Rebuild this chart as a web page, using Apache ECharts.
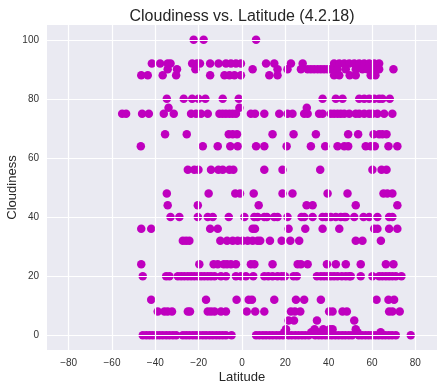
<!DOCTYPE html>
<html>
<head>
<meta charset="utf-8">
<script src="https://cdn.jsdelivr.net/npm/echarts@6/dist/echarts.min.js"></script>
<style>html,body{margin:0;padding:0;background:#fff}#c{width:444px;height:390px}</style>
</head>
<body>
<div id="c"></div>
<script>
// Latitude values of cities, grouped by their cloudiness (%) reading
var lat_c100 = [-22.3, -17.7, 6.5];
var lat_c92 = [-41.6, -37.8, -34.3, -33.0, -23.0, -20.7, -19.4, -14.7, -10.8, -7.4, -5.1, -2.8, -0.5, 11.1, 14.9, 22.6, 28.0, 42.5, 44.9, 47.2, 49.5, 51.8, 54.1, 56.4, 58.7, 61.0, 63.3];
var lat_c90 = [-34.3, -30.0, -21.5, 4.9, 16.4, 21.0, 27.2, 30.3, 31.8, 33.3, 34.9, 36.4, 37.9, 39.5, 41.0, 42.5, 44.1, 47.9, 52.5, 55.6, 57.9, 61.0, 63.3, 69.9];
var lat_c88 = [-46.5, -43.5, -36.6, -30.4, -14.7, -8.1, -5.8, -3.5, -0.5, 12.6, 16.4, 42.5, 44.9, 49.7, 52.5, 59.4, 61.6];
var lat_c80 = [-34.7, -26.9, -23.0, -20.1, -16.9, -8.9, -1.5, 37.2, 43.3, 46.4, 54.1, 56.4, 58.7, 61.0, 63.3, 64.8, 68.2];
var lat_c77 = [-33.9, -1.2, 29.9];
var lat_c75 = [-55.3, -53.5, -46.1, -43.0, -36.1, -31.5, -23.5, -21.2, -18.9, -15.8, -10.4, -8.9, -7.4, -5.8, -4.3, -2.8, 4.1, 6.0, 10.3, 17.2, 21.0, 23.3, 28.7, 30.3, 35.6, 37.2, 41.0, 42.5, 44.1, 45.6, 47.2, 49.5, 52.5, 54.1, 56.4, 58.7, 60.2, 62.5, 65.6, 69.4];
var lat_c68 = [-35.5, -25.5, -6.1, -4.3, -2.3, 14.1, 23.8, 34.1, 49.0, 53.6, 60.7, 63.3, 64.8, 66.7];
var lat_c64 = [-46.7, -18.1, -11.2, -5.4, -2.0, 6.5, 10.3, 20.6, 31.8, 38.4, 44.1, 47.2, 49.0, 57.1, 59.4, 61.3, 67.6, 71.7];
var lat_c56 = [-25.0, -22.0, -20.1, -14.3, -10.9, -8.9, -5.8, -4.0, 10.3, 18.7, 36.1, 60.2, 64.4, 66.7];
var lat_c48 = [-34.7, -15.4, -3.1, -0.9, 5.4, 18.7, 23.3, 39.5, 48.7, 65.3, 67.1, 69.4];
var lat_c44 = [-34.3, -20.4, 7.7, 29.8, 32.6, 52.5, 71.7];
var lat_c40 = [-33.0, -28.9, -20.4, -15.8, -13.5, -6.1, 1.1, 5.7, 7.2, 10.3, 11.5, 14.9, 16.4, 21.0, 27.5, 28.7, 32.6, 37.2, 38.7, 41.0, 43.3, 45.6, 47.2, 47.9, 51.8, 56.1, 58.7, 62.5, 67.9, 69.4];
var lat_c36 = [-46.5, -41.9, -14.7, -11.2, 4.9, 6.0, 21.5, 29.2, 37.2, 44.9, 61.0, 62.5, 67.9, 71.7];
var lat_c32 = [-27.3, -25.8, -24.3, -10.0, -6.9, -4.3, -2.0, 0.3, 2.6, 4.9, 7.2, 8.4, 12.9, 18.3, 22.3, 26.4, 52.5, 55.6, 64.1];
var lat_c24 = [-46.5, -19.7, -13.1, -11.2, -8.4, -6.9, -5.1, -2.8, 4.1, 5.7, 14.1, 25.7, 27.2, 30.3, 39.2, 43.3, 47.9, 54.8, 66.4, 69.9];
var lat_c20 = [-45.8, -35.0, -33.5, -29.6, -28.1, -26.6, -25.0, -23.5, -22.0, -20.4, -18.9, -17.4, -15.8, -14.3, -12.7, -9.7, -7.4, -2.8, -0.5, 1.8, 5.2, 10.3, 12.1, 14.1, 16.4, 18.3, 19.8, 23.8, 25.3, 34.6, 36.4, 37.9, 39.5, 41.0, 42.5, 44.1, 46.1, 47.9, 49.5, 50.2, 54.8, 60.2, 63.3, 64.8, 66.4, 67.9, 69.4, 71.0, 73.6];
var lat_c12 = [-41.9, -16.6, -2.5, 3.1, 4.6, 14.9, 24.9, 28.7, 36.4, 62.1, 67.6, 70.2];
var lat_c8 = [-38.9, -35.8, -34.3, -32.3, -25.0, -24.0, -15.8, -14.3, -12.7, -9.7, -7.4, 2.2, 6.1, 10.3, 22.6, 24.4, 26.9, 40.2, 41.8, 46.4, 48.4, 67.9, 69.4, 72.8];
var lat_c5 = [21.5, 24.0, 34.6, 51.8];
var lat_c2 = [20.3, 33.5, 37.5, 40.5, 41.8, 52.5];
var lat_c1 = [19.5, 32.0, 35.0, 38.5, 53.3, 64.0];
var lat_c0 = [-45.8, -44.2, -42.7, -41.2, -39.6, -38.1, -36.6, -35.0, -33.5, -31.9, -30.4, -27.3, -25.8, -24.3, -22.7, -21.2, -19.7, -18.1, -16.6, -15.0, -13.5, -11.9, -10.4, -8.9, -7.4, -4.8,
  6.5, 8.0, 9.6, 11.1, 12.7, 14.2, 15.8, 17.3, 18.9, 21.5, 23.0, 24.6, 26.1, 27.7, 29.2, 30.8, 33.8, 35.4, 36.9, 38.5, 40.0, 41.5, 43.1, 44.6, 46.2, 47.7, 49.3, 50.8, 53.9, 55.4, 57.0, 58.5, 60.0, 61.6, 63.1, 64.7, 66.2, 67.8, 69.3, 71.0, 77.9];

var cloudLevels = [100, 92, 90, 88, 80, 77, 75, 68, 64, 56, 48, 44, 40, 36, 32, 24, 20, 12, 8, 5, 2, 1, 0];
var latGroups = [lat_c100, lat_c92, lat_c90, lat_c88, lat_c80, lat_c77, lat_c75, lat_c68, lat_c64, lat_c56, lat_c48, lat_c44, lat_c40, lat_c36, lat_c32, lat_c24, lat_c20, lat_c12, lat_c8, lat_c5, lat_c2, lat_c1, lat_c0];

var xTicks = [-80, -60, -40, -20, 0, 20, 40, 60, 80];
var yTicks = [0, 20, 40, 60, 80, 100];

var points = [];
cloudLevels.forEach(function (c, i) {
  latGroups[i].forEach(function (lat) { points.push([lat, c]); });
});

var chart = echarts.init(document.getElementById('c'), null, { renderer: 'canvas' });
var txt = '#333333';
var gridLineStyle = { color: '#ffffff', width: 1.2, type: 'solid' };
chart.setOption({
  animation: false,
  backgroundColor: '#ffffff',
  title: {
    text: 'Cloudiness vs. Latitude (4.2.18)',
    left: 237, top: 4, textAlign: 'center',
    textStyle: { fontFamily: 'Liberation Sans, Arial, sans-serif', fontSize: 16, fontWeight: 'normal', color: '#262626' }
  },
  grid: {
    left: 47, right: 7, top: 25, bottom: 40,
    show: true, backgroundColor: '#EAEAF2', borderWidth: 0,
    containLabel: false, outerBoundsMode: 'none'
  },
  xAxis: {
    type: 'value', min: -90, max: 90, interval: 10,
    name: 'Latitude', nameLocation: 'middle', nameGap: 21, nameMoveOverlap: false,
    nameTextStyle: { fontFamily: 'Liberation Sans, Arial, sans-serif', fontSize: 13, color: '#262626', verticalAlign: 'top' },
    axisLine: { show: false }, axisTick: { show: false }, splitLine: { show: false },
    axisLabel: {
      margin: 8, fontFamily: 'Liberation Sans, Arial, sans-serif', fontSize: 10, color: txt,
      formatter: function (v) { return xTicks.indexOf(v) >= 0 ? String(v).replace('-', '\u2212') : ''; }
    }
  },
  yAxis: {
    type: 'value', min: -5, max: 105, interval: 5,
    name: 'Cloudiness', nameLocation: 'middle', nameGap: 28, nameRotate: 90, nameMoveOverlap: false,
    nameTextStyle: { fontFamily: 'Liberation Sans, Arial, sans-serif', fontSize: 13, color: '#262626' },
    axisLine: { show: false }, axisTick: { show: false }, splitLine: { show: false },
    axisLabel: {
      margin: 8, fontFamily: 'Liberation Sans, Arial, sans-serif', fontSize: 10, color: txt,
      formatter: function (v) { return yTicks.indexOf(v) >= 0 ? String(v) : ''; }
    }
  },
  series: [
    {
      type: 'scatter', data: [], z: 1, silent: true,
      markLine: {
        silent: true, symbol: 'none', label: { show: false }, lineStyle: gridLineStyle, animation: false,
        data: xTicks.map(function (v) { return { xAxis: v }; }).concat(yTicks.map(function (v) { return { yAxis: v }; }))
      }
    },
    {
      type: 'scatter', z: 3, data: points,
      symbol: 'circle', symbolSize: 8.5,
      itemStyle: { color: '#BF00BF', opacity: 1 }
    }
  ]
});
</script>
</body>
</html>
